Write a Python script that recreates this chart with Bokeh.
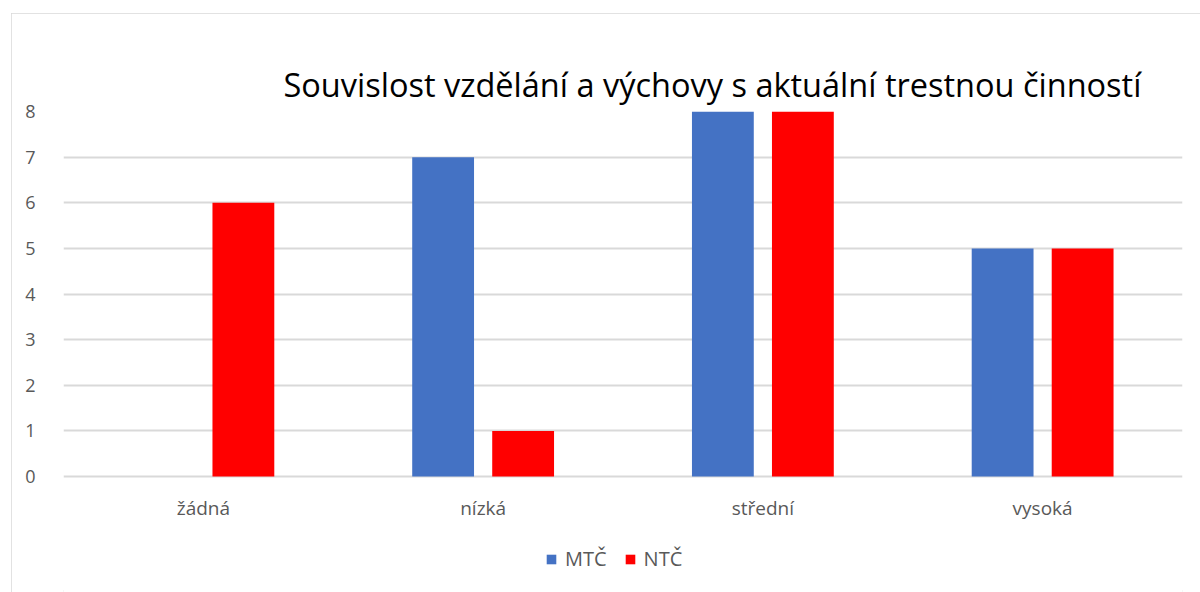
from bokeh.plotting import figure
from bokeh.models import FactorRange, Range1d, Legend, LegendItem, ColumnDataSource, InlineStyleSheet, FixedTicker
from bokeh.transform import dodge
from bokeh.core.properties import value
from bokeh.embed import file_html
from bokeh.resources import INLINE

categories = ["žádná", "nízká", "střední", "vysoká"]
mtc = [0, 7, 8, 5]
ntc = [6, 1, 8, 5]
series_names = ["MTČ", "NTČ"]
y_ticks = [0, 1, 2, 3, 4, 5, 6, 7, 8]
title_text = "Souvislost vzdělání a výchovy s aktuální trestnou činností"

FONT = "Open Sans"
src = ColumnDataSource(dict(cat=categories, mtc=mtc, ntc=ntc, zero=[0] * len(categories)))

p = figure(x_range=FactorRange(*categories, range_padding=0), y_range=Range1d(-2.54, 8),
           width=1189, height=579, output_backend="svg", toolbar_location=None,
           x_axis_location=None,
           min_border_left=52, min_border_right=18, min_border_top=98, min_border_bottom=0)
p.margin = (13, 0, 0, 11)
p.stylesheets = [InlineStyleSheet(css=":host { outline: 2px solid #d9d9d9; outline-offset: -2px; }")]

p.title.text = title_text
p.title.text_font = FONT
p.title.text_font_size = "32.5px"
p.title.text_font_style = "normal"
p.title.text_color = "#000000"
p.title.align = "left"
p.title.offset = 220
p.title.standoff = 9

r1 = p.vbar(x=dodge("cat", -0.143, range=p.x_range), top="mtc", width=0.221, source=src,
            fill_color="#4472C4", line_color=None)
r2 = p.vbar(x=dodge("cat", 0.143, range=p.x_range), top="ntc", width=0.221, source=src,
            fill_color="#FF0000", line_color=None)

# category labels under the zero line
p.text(x="cat", y="zero", text="cat", source=src, y_offset=31,
       text_align="center", text_baseline="middle",
       text_font=value(FONT), text_font_size="19px", text_color="#595959")

p.outline_line_color = None
p.xgrid.grid_line_color = None
p.ygrid.grid_line_color = "#d9d9d9"
p.ygrid.grid_line_width = 2
p.yaxis.ticker = FixedTicker(ticks=y_ticks)
p.yaxis.axis_line_color = None
p.yaxis.major_tick_line_color = None
p.yaxis.minor_tick_line_color = None
p.yaxis.major_label_text_font = FONT
p.yaxis.major_label_text_font_size = "18px"
p.yaxis.major_label_text_color = "#595959"
p.yaxis.major_label_standoff = 22

legend = Legend(items=[LegendItem(label=series_names[0], renderers=[r1]),
                       LegendItem(label=series_names[1], renderers=[r2])],
                orientation="horizontal", location=(482, 20),
                glyph_width=12, glyph_height=12, label_standoff=8, spacing=17,
                padding=0, margin=0, border_line_color=None, background_fill_alpha=0,
                label_text_font=FONT, label_text_font_size="20px", label_text_color="#595959")
p.add_layout(legend, "center")

open("out.html", "w").write(file_html(p, INLINE))
